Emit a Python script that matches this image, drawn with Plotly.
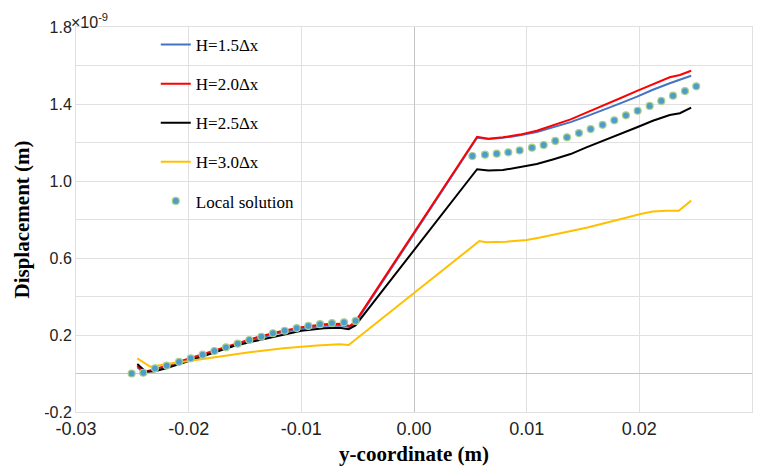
import plotly.graph_objects as go

# Values in units of 1e-9 m
x_h15 = [-0.02456, -0.0240, -0.0230, -0.0220, -0.0200, -0.0180, -0.0160, -0.0140, -0.0120, -0.0100,
         -0.0080, -0.0065, -0.0057, -0.0052, 0.0056, 0.0066, 0.0079, 0.0094, 0.0109, 0.0124,
         0.0139, 0.0153, 0.0168, 0.0183, 0.0198, 0.0212, 0.0227, 0.0236, 0.0246]
y_h15 = [0.032, 0.004, 0.018, 0.035, 0.071, 0.108, 0.145, 0.180, 0.210, 0.233,
         0.248, 0.250, 0.240, 0.262, 1.225, 1.218, 1.224, 1.237, 1.255, 1.279,
         1.306, 1.336, 1.368, 1.403, 1.438, 1.474, 1.508, 1.525, 1.547]

x_h20 = [-0.02456, -0.0240, -0.0230, -0.0220, -0.0200, -0.0180, -0.0160, -0.0140, -0.0120, -0.0100,
         -0.0080, -0.0065, -0.0057, -0.0052, 0.0056, 0.0066, 0.0079, 0.0094, 0.0109, 0.0124,
         0.0139, 0.0153, 0.0168, 0.0183, 0.0198, 0.0212, 0.0227, 0.0236, 0.0246]
y_h20 = [0.040, 0.008, 0.022, 0.040, 0.077, 0.114, 0.152, 0.187, 0.217, 0.240,
         0.256, 0.258, 0.247, 0.270, 1.230, 1.220, 1.227, 1.241, 1.261, 1.289,
         1.320, 1.355, 1.391, 1.430, 1.468, 1.504, 1.539, 1.551, 1.573]

x_h25 = [-0.02456, -0.0238, -0.0230, -0.0220, -0.0200, -0.0180, -0.0160, -0.0140, -0.0120, -0.0100,
         -0.0080, -0.0066, -0.0058, -0.0052, 0.0056, 0.0066, 0.0079, 0.0094, 0.0109, 0.0124,
         0.0139, 0.0153, 0.0168, 0.0183, 0.0198, 0.0212, 0.0227, 0.0236, 0.0246]
y_h25 = [0.049, 0.009, 0.012, 0.027, 0.065, 0.104, 0.143, 0.170, 0.198, 0.222,
         0.235, 0.238, 0.230, 0.250, 1.061, 1.054, 1.057, 1.071, 1.088, 1.113,
         1.140, 1.175, 1.209, 1.244, 1.279, 1.313, 1.343, 1.352, 1.381]

x_h30 = [-0.02456, -0.0234, -0.0220, -0.0205, -0.0175, -0.0146, -0.0116, -0.0086, -0.0066, -0.0058,
         0.0058, 0.0064, 0.0082, 0.0100, 0.0112, 0.0124, 0.0153, 0.0183, 0.0201, 0.0212,
         0.0224, 0.0235, 0.0246]
y_h30 = [0.079, 0.035, 0.048, 0.061, 0.087, 0.110, 0.131, 0.146, 0.152, 0.148,
         0.688, 0.682, 0.685, 0.694, 0.706, 0.720, 0.757, 0.801, 0.829, 0.841,
         0.846, 0.845, 0.898]

x_local = [-0.02506, -0.02403, -0.02299, -0.02195, -0.02086, -0.01982, -0.01876, -0.01772, -0.01669, -0.01565,
           -0.01462, -0.01355, -0.01252, -0.01148, -0.01041, -0.00938, -0.00834, -0.00728, -0.00621, -0.00518,
           0.00518, 0.00630, 0.00734, 0.00837, 0.00938, 0.01047, 0.01151, 0.01254, 0.01358, 0.01464,
           0.01568, 0.01674, 0.01778, 0.01881, 0.01985, 0.02092, 0.02195, 0.02299, 0.02405, 0.02505]
y_local = [0.000, 0.004, 0.027, 0.041, 0.060, 0.079, 0.098, 0.117, 0.136, 0.155,
           0.174, 0.191, 0.209, 0.222, 0.236, 0.247, 0.256, 0.262, 0.266, 0.273,
           1.130, 1.137, 1.142, 1.149, 1.159, 1.173, 1.187, 1.208, 1.227, 1.249,
           1.270, 1.292, 1.315, 1.341, 1.365, 1.390, 1.416, 1.443, 1.467, 1.492]

x_ticks = [-0.03, -0.02, -0.01, 0.00, 0.01, 0.02, 0.03]
x_tick_labels = ["-0.03", "-0.02", "-0.01", "0.00", "0.01", "0.02", "0.03"]
y_ticks = [-0.2, 0.2, 0.6, 1.0, 1.4, 1.8]
y_tick_labels = ["-0.2", "0.2", "0.6", "1.0", "1.4", "1.8"]

serif = "Liberation Serif, Times New Roman, serif"
sans = "Liberation Sans, Arial, sans-serif"

fig = go.Figure()
series = [
    ("H=1.5Δx", x_h15, y_h15, "#4472c4"),
    ("H=2.0Δx", x_h20, y_h20, "#ff0000"),
    ("H=2.5Δx", x_h25, y_h25, "#000000"),
    ("H=3.0Δx", x_h30, y_h30, "#ffc000"),
]
for i, (name, xs, ys, col) in enumerate(series):
    fig.add_trace(go.Scatter(x=xs, y=ys, mode="lines", name=name,
                             line=dict(color=col, width=2), legendgroup=f"g{i}"))
fig.add_trace(go.Scatter(x=x_local, y=y_local, mode="markers", name="Local solution",
                         marker=dict(color="#4f9ccc", size=7, line=dict(color="#a9d18e", width=1.2)),
                         legendgroup="g5"))

grid = "#e0e0e0"
fig.update_layout(
    width=755, height=461,
    margin=dict(l=68, r=11, t=19, b=57),
    plot_bgcolor="white", paper_bgcolor="white",
    showlegend=True,
    legend=dict(x=0.118, y=1.0, xanchor="left", yanchor="top",
                bgcolor="rgba(0,0,0,0)", font=dict(family=serif, size=17, color="black"),
                tracegroupgap=14, traceorder="grouped"),
    xaxis=dict(range=[-0.03, 0.03], tickvals=x_ticks, ticktext=x_tick_labels,
               showgrid=True, gridcolor=grid, gridwidth=1, automargin=False,
               zeroline=True, zerolinecolor="#c4c4c4", zerolinewidth=1.2,
               showline=True, linecolor=grid, mirror=True, ticks="",
               tickfont=dict(family=sans, size=18, color="#222"),
               title=dict(text="<b>y-coordinate (m)</b>", font=dict(family=serif, size=21, color="black"),
                          standoff=8)),
    yaxis=dict(range=[-0.2, 1.8], tickvals=y_ticks, ticktext=y_tick_labels,
               showgrid=True, gridcolor=grid, gridwidth=1, automargin=False,
               minor=dict(tick0=0, dtick=0.2, showgrid=True, gridcolor=grid, gridwidth=1),
               zeroline=True, zerolinecolor="#c4c4c4", zerolinewidth=1.2,
               showline=True, linecolor=grid, mirror=True, ticks="",
               tickfont=dict(family=sans, size=16, color="#222"),
               title=dict(text="<b>Displacement (m)</b>", font=dict(family=serif, size=21, color="black"),
                          standoff=8)),
    annotations=[dict(text="×10<sup>-9</sup>", xref="paper", yref="paper", x=0, y=1,
                      xanchor="left", yanchor="bottom", showarrow=False,
                      font=dict(family=sans, size=16, color="#222"), xshift=-7, yshift=-6)],
)

fig.write_html("out.html")
